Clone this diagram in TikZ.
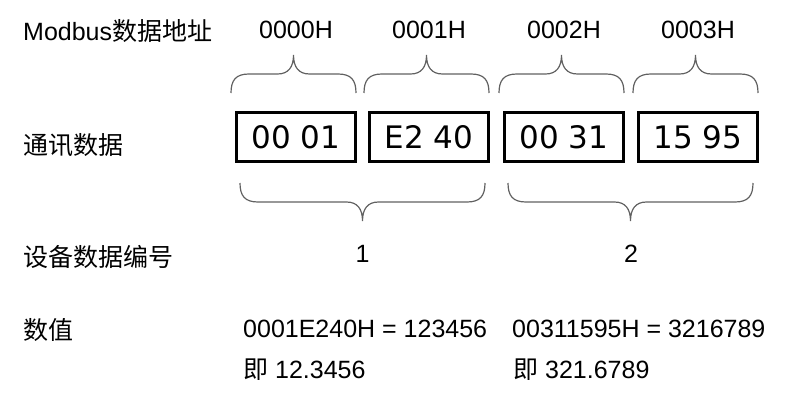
\documentclass[tikz,border=0pt]{standalone}
\usepackage{fontspec}
\usetikzlibrary{calc}
\setmainfont{Liberation Sans}
\newfontfamily\cjk{Noto Sans CJK SC}
\newfontfamily\boxfont{DejaVu Sans}
\tikzset{
  txt/.style={font=\fontsize{25}{30}\selectfont, inner sep=0pt},
  cell/.style={draw=black, line width=3pt, minimum width=119pt, minimum height=49pt,
               inner sep=0pt, font=\boxfont\fontsize{31}{36}\selectfont},
  bracestyle/.style={draw=black!62, line width=1.2pt},
  pics/curly/.style={code={
    \draw[bracestyle] (0,0) .. controls (0,13) and (5,19) .. (18,19)
      -- ({#1/2-16},19) .. controls ({#1/2-5},19) and ({#1/2},26) .. ({#1/2},38)
      .. controls ({#1/2},26) and ({#1/2+5},19) .. ({#1/2+16},19)
      -- ({#1-18},19) .. controls ({#1-5},19) and (#1,13) .. (#1,0);
  }}
}
\begin{document}
\begin{tikzpicture}[x=1pt,y=1pt]
\useasboundingbox (0,0) rectangle (787,408);
% row labels
\node[txt, anchor=west] (labaddr) at (23,377) {Modbus{\cjk 数据地址}};
\node[txt, anchor=west] (labcomm) at (23,263) {\cjk 通讯数据};
\node[txt, anchor=west] (labdev)  at (23,151) {\cjk 设备数据编号};
\node[txt, anchor=west] (labval)  at (23,78)  {\cjk 数值};
% data cells
\node[cell] (b1) at (296,271) {00 01};
\node[cell] (b2) at (429,271) {E2 40};
\node[cell] (b3) at (564,271) {00 31};
\node[cell] (b4) at (698,271) {15 95};
% addresses
\node[txt] (a1) at (b1 |- 0,378) {0000H};
\node[txt] (a2) at (b2 |- 0,378) {0001H};
\node[txt] (a3) at (b3 |- 0,378) {0002H};
\node[txt] (a4) at (b4 |- 0,378) {0003H};
% top braces
\pic at ([shift={(-4,18)}]b1.north west) {curly=125};
\pic at ([shift={(-4,18)}]b2.north west) {curly=125};
\pic at ([shift={(-4,18)}]b3.north west) {curly=125};
\pic at ([shift={(-4,18)}]b4.north west) {curly=125};
% bottom braces
\pic[yscale=-1] at ([shift={(5,-20)}]b1.south west) {curly=245};
\pic[yscale=-1] at ([shift={(5,-20)}]b3.south west) {curly=245};
% device numbers
\coordinate (m1) at ($(b1.south west)!0.5!(b2.south east)$);
\coordinate (m2) at ($(b3.south west)!0.5!(b4.south east)$);
\node[txt] (n1) at (m1 |- 0,154) {1};
\node[txt] (n2) at (m2 |- 0,154) {2};
% values
\node[txt, anchor=base west] (v1) at (243,71) {0001E240H = 123456};
\node[txt, anchor=base west] (v2) at (512,71) {00311595H = 3216789};
\node[txt, anchor=base west] (w1) at (243,30) {{\cjk 即} 12.3456};
\node[txt, anchor=base west] (w2) at (513,30) {{\cjk 即} 321.6789};
\end{tikzpicture}
\end{document}
